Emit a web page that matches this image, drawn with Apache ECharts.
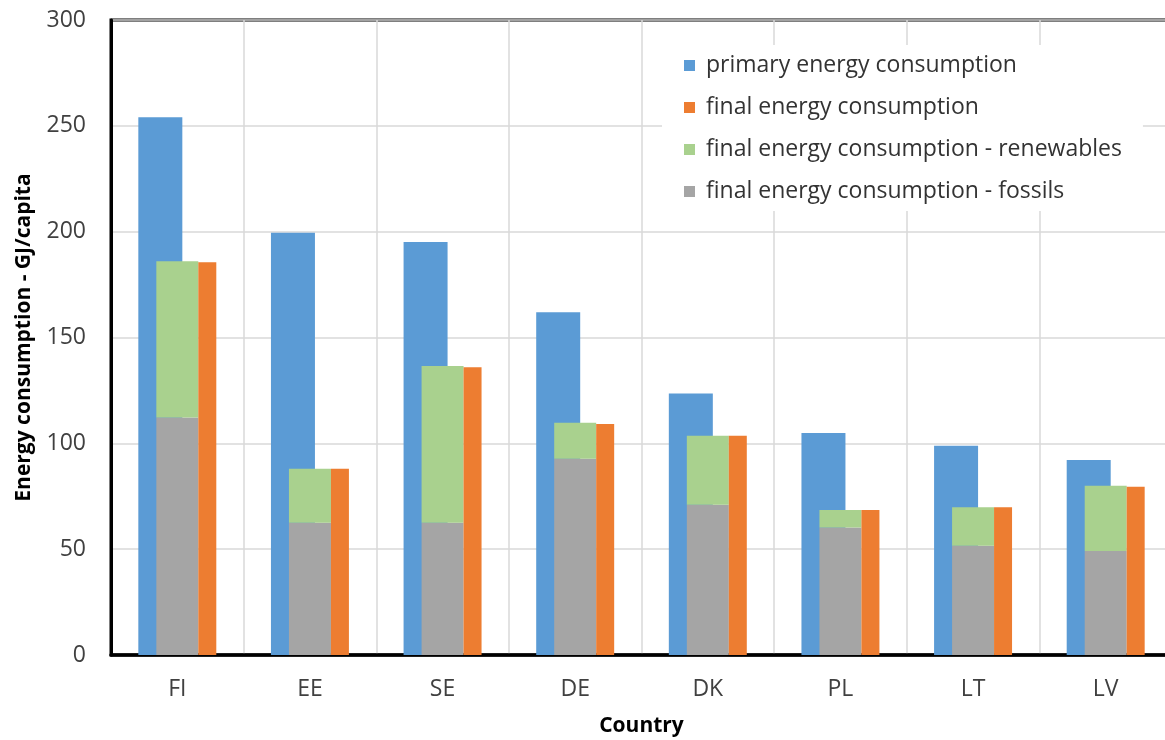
<!DOCTYPE html>
<html>
<head>
<meta charset="utf-8">
<script src="https://cdn.jsdelivr.net/npm/echarts@6/dist/echarts.min.js"></script>
<style>
html,body{margin:0;padding:0;background:#fff;}
#chart{width:1165px;height:740px;}
</style>
</head>
<body>
<div id="chart"></div>
<script>
const categories = ['FI','EE','SE','DE','DK','PL','LT','LV'];
const primaryEnergy = [254.0, 199.5, 195.1, 161.9, 123.6, 104.9, 98.9, 92.1];
const finalEnergy = [185.5, 88.0, 135.9, 109.1, 103.6, 68.5, 69.8, 79.5];
const finalFossils = [112.2, 62.5, 62.5, 92.7, 71.0, 60.2, 51.6, 49.1];
const finalRenewables = [73.8, 25.5, 74.0, 17.0, 32.6, 8.3, 18.2, 30.9];
const yTicks = [0, 50, 100, 150, 200, 250, 300];

const FONT = '"Open Sans", "Liberation Sans", sans-serif';
const GAP = '-59.09%';
const chart = echarts.init(document.getElementById('chart'), null, {renderer:'canvas'});
chart.setOption({
  animation: false,
  backgroundColor: '#ffffff',
  textStyle: {fontFamily: FONT},
  grid: {
    left: 111, top: 20, width: 1061, height: 635,
    outerBoundsMode: 'none', containLabel: false,
    show: true, borderColor: '#000', borderWidth: 3, backgroundColor: 'transparent'
  },
  legend: {
    orient: 'vertical',
    left: 662, top: 45,
    padding: [9, 21, 8, 22],
    backgroundColor: '#ffffff',
    itemWidth: 11, itemHeight: 11, itemGap: 19,
    icon: 'rect',
    data: ['primary energy consumption', 'final energy consumption', 'final energy consumption - renewables', 'final energy consumption - fossils'],
    textStyle: {fontFamily: FONT, fontSize: 23, color: '#333333', padding: [0,0,0,6]}
  },
  xAxis: {
    type: 'category',
    data: categories,
    name: 'Country',
    nameLocation: 'middle',
    nameGap: 61,
    nameTextStyle: {fontFamily: FONT, fontSize: 21, fontWeight: 'bold', color: '#000'},
    axisLine: {show: true, lineStyle: {color: '#000', width: 3.5}},
    axisTick: {show: false},
    axisLabel: {fontFamily: FONT, fontSize: 23, color: '#404040', margin: 23},
    splitLine: {show: true, interval: 0, lineStyle: {color: '#d9d9d9', width: 1.5}}
  },
  yAxis: {
    type: 'value',
    min: yTicks[0], max: yTicks[yTicks.length-1], interval: 50,
    name: 'Energy consumption - GJ/capita',
    nameLocation: 'middle',
    nameGap: 76,
    nameTextStyle: {fontFamily: FONT, fontSize: 21, fontWeight: 'bold', color: '#000'},
    axisLine: {show: true, lineStyle: {color: '#000', width: 3}},
    axisTick: {show: false},
    axisLabel: {fontFamily: FONT, fontSize: 23, color: '#404040', margin: 25},
    splitLine: {show: true, lineStyle: {color: '#d9d9d9', width: 1.5}}
  },
  series: [
    {name: 'primary energy consumption', type: 'bar', data: primaryEnergy, barWidth: 44, barGap: GAP,
     itemStyle: {color: '#5B9BD5'}},
    {name: 'final energy consumption - fossils', type: 'bar', stack: 'final', data: finalFossils, barWidth: 42, barGap: GAP,
     itemStyle: {color: '#A5A5A5'}},
    {name: 'final energy consumption - renewables', type: 'bar', stack: 'final', data: finalRenewables, barWidth: 42, barGap: GAP,
     itemStyle: {color: '#A9D18E'}},
    {name: 'spacer', type: 'bar', data: categories.map(() => 0), barWidth: 60.6, barGap: GAP, silent: true,
     itemStyle: {color: 'rgba(0,0,0,0)'}},
    {name: 'final energy consumption', type: 'bar', data: finalEnergy, barWidth: 18, barGap: GAP,
     itemStyle: {color: '#ED7D31'}}
  ]
});
</script>
</body>
</html>
